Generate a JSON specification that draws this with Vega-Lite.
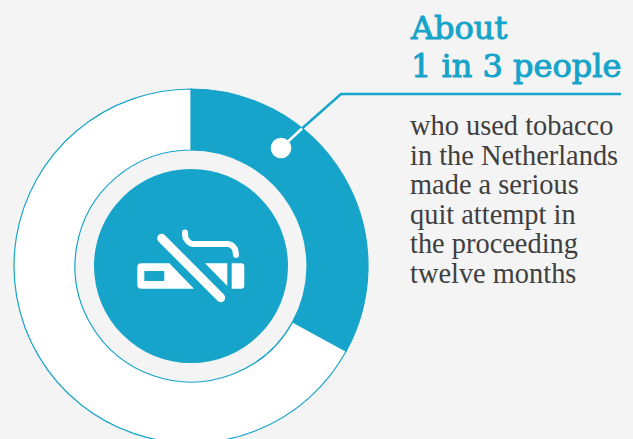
{
  "$schema": "https://vega.github.io/schema/vega-lite/v6.json",
  "width": 633,
  "height": 439,
  "padding": 0,
  "autosize": "none",
  "background": "#f4f4f4",
  "view": {"stroke": null},
  "datasets": {
    "shares": [
      {"group": "made a quit attempt", "share": 33, "rank": 1},
      {"group": "did not", "share": 67, "rank": 2}
    ],
    "leaderOuter": [
      {"x": 302, "y": 128.5, "k": 1},
      {"x": 341, "y": 94, "k": 2},
      {"x": 621, "y": 94, "k": 3}
    ],
    "leaderInner": [
      {"x": 281, "y": 148, "k": 1},
      {"x": 302, "y": 128.5, "k": 2}
    ],
    "slash": [
      {"x": 161.7, "y": 238.3, "k": 1},
      {"x": 220.7, "y": 297.7, "k": 2}
    ],
    "smoke": [
      {"x": 185, "y": 232.5, "k": 1},
      {"x": 185.5, "y": 238, "k": 2},
      {"x": 193, "y": 244, "k": 3},
      {"x": 228, "y": 244, "k": 4},
      {"x": 235, "y": 249, "k": 5},
      {"x": 236, "y": 255, "k": 6}
    ]
  },
  "encoding": {
    "x": {"type": "quantitative", "scale": {"domain": [0, 633], "nice": false, "zero": false}, "axis": null},
    "y": {"type": "quantitative", "scale": {"domain": [0, 439], "range": [0, 439], "nice": false, "zero": false}, "axis": null}
  },
  "layer": [
    {
      "data": {"name": "shares"},
      "mark": {"type": "arc", "outerRadius": 177, "innerRadius": 116, "stroke": "#16a4ca", "strokeWidth": 1.2},
      "encoding": {
        "x": {"datum": 191, "type": "quantitative", "scale": {"domain": [0, 633], "nice": false, "zero": false}, "axis": null},
        "y": {"datum": 266, "type": "quantitative", "scale": {"domain": [0, 439], "range": [0, 439], "nice": false, "zero": false}, "axis": null},
        "theta": {"field": "share", "type": "quantitative", "stack": true},
        "order": {"field": "rank", "type": "ordinal"},
        "color": {
          "field": "group",
          "type": "nominal",
          "scale": {"domain": ["made a quit attempt", "did not"], "range": ["#16a4ca", "#ffffff"]},
          "legend": null
        }
      }
    },
    {
      "data": {"values": [{"part": "disc"}]},
      "mark": {"type": "point", "shape": "circle", "filled": true, "opacity": 1, "size": 37636, "color": "#16a4ca", "stroke": null},
      "encoding": {
        "x": {"datum": 191, "type": "quantitative"},
        "y": {"datum": 266, "type": "quantitative"}
      }
    },
    {
      "data": {"values": [{"part": "cigarette"}]},
      "mark": {
        "type": "point",
        "filled": true,
        "opacity": 1,
        "size": 4,
        "color": "#ffffff",
        "stroke": null,
        "shape": "M-21.7 -12.7 L3 12.7 L-49.7 12.7 Q-53.7 12.7 -53.7 8.7 L-53.7 -8.7 Q-53.7 -12.7 -49.7 -12.7 Z M-46.7 -5 L-46.7 5 L-26.7 5 L-26.7 -5 Z M14 -12.7 L36.3 -12.7 L36.3 10 Z M40.7 -12.7 L50.3 -12.7 Q53.3 -12.7 53.3 -9.7 L53.3 9.7 Q53.3 12.7 50.3 12.7 L40.7 12.7 Z"
      },
      "encoding": {
        "x": {"datum": 191, "type": "quantitative"},
        "y": {"datum": 276, "type": "quantitative"}
      }
    },
    {
      "data": {"name": "slash"},
      "mark": {"type": "line", "color": "#ffffff", "strokeWidth": 9, "strokeCap": "round"},
      "encoding": {
        "x": {"field": "x", "type": "quantitative"},
        "y": {"field": "y", "type": "quantitative"},
        "order": {"field": "k"}
      }
    },
    {
      "data": {"name": "smoke"},
      "mark": {"type": "line", "color": "#ffffff", "strokeWidth": 6, "strokeCap": "round", "strokeJoin": "round", "interpolate": "monotone"},
      "encoding": {
        "x": {"field": "x", "type": "quantitative"},
        "y": {"field": "y", "type": "quantitative"},
        "order": {"field": "k"}
      }
    },
    {
      "data": {"name": "leaderOuter"},
      "mark": {"type": "line", "color": "#16a4ca", "strokeWidth": 2.5},
      "encoding": {
        "x": {"field": "x", "type": "quantitative"},
        "y": {"field": "y", "type": "quantitative"},
        "order": {"field": "k"}
      }
    },
    {
      "data": {"name": "leaderInner"},
      "mark": {"type": "line", "color": "#ffffff", "strokeWidth": 2.5},
      "encoding": {
        "x": {"field": "x", "type": "quantitative"},
        "y": {"field": "y", "type": "quantitative"},
        "order": {"field": "k"}
      }
    },
    {
      "data": {"values": [{"part": "dot"}]},
      "mark": {"type": "point", "shape": "circle", "filled": true, "opacity": 1, "size": 428, "color": "#ffffff", "stroke": null},
      "encoding": {
        "x": {"datum": 281, "type": "quantitative"},
        "y": {"datum": 148, "type": "quantitative"}
      }
    },
    {
      "data": {"values": [{"headline": ["About", "1 in 3 people"]}]},
      "mark": {"type": "text", "align": "left", "baseline": "alphabetic", "font": "DejaVu Serif", "fontSize": 32, "lineHeight": 38, "fill": "#16a4ca", "stroke": "#16a4ca", "strokeWidth": 1},
      "encoding": {
        "x": {"datum": 411, "type": "quantitative"},
        "y": {"datum": 39, "type": "quantitative"},
        "text": {"field": "headline"}
      }
    },
    {
      "data": {"values": [{"body": ["who used tobacco", "in the Netherlands", "made a serious", "quit attempt in", "the proceeding", "twelve months"]}]},
      "mark": {"type": "text", "align": "left", "baseline": "alphabetic", "font": "Liberation Serif", "fontSize": 28.4, "lineHeight": 29.6, "color": "#3f3f3f"},
      "encoding": {
        "x": {"datum": 410, "type": "quantitative"},
        "y": {"datum": 135, "type": "quantitative"},
        "text": {"field": "body"}
      }
    }
  ]
}
